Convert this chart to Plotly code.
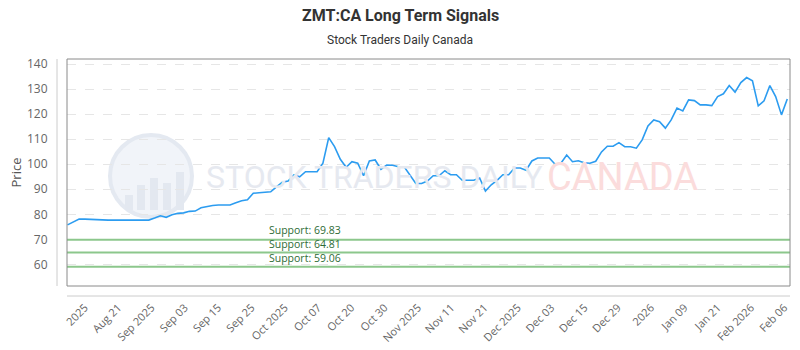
import numpy as np
import plotly.graph_objects as go

# ---- data ----
prices = [
    75.8, 77.0, 78.1, 78.1, 78.1, 78.0, 77.8, 77.7, 77.7, 77.7, 77.7, 77.7, 77.7, 77.7, 77.7,
    78.5, 79.4, 78.8, 79.8, 80.4, 80.6, 81.2, 81.3, 82.6, 83.2, 83.5, 83.7, 83.7, 83.7,
    84.6, 85.4, 85.8, 88.4,
    88.6, 88.9, 89.0, 91.0, 92.8, 93.3, 95.7, 95.0, 97.0, 97.0, 97.0, 100.4, 110.6, 107.0,
    102.0, 98.8, 101.0, 100.4, 95.4, 101.3, 101.7, 98.0, 99.7, 99.6, 99.0, 99.0, 95.4, 92.3,
    92.3, 93.3, 95.4, 95.4,
    97.4, 95.8, 95.8, 93.6, 93.6, 93.6, 94.5, 89.3, 91.8, 93.6, 95.8, 95.8, 98.5, 98.5, 97.6,
    101.3, 102.5, 102.5, 102.5, 100.0, 100.4, 103.7, 101.0, 101.4, 100.6, 100.4, 101.2, 104.9,
    107.2, 107.2, 108.6,
    107.0, 107.0, 106.4, 109.7, 115.3, 117.7, 117.0, 114.4, 117.7, 122.4, 121.3, 125.7, 125.4,
    123.7, 123.7, 123.4, 127.0, 128.1, 131.4, 128.8, 132.6, 134.6, 133.3, 123.3, 125.3, 131.4,
    127.0, 119.7, 126.0,
]
tick_labels = ["2025", "Aug 21", "Sep 2025", "Sep 03", "Sep 15", "Sep 25", "Oct 2025", "Oct 07",
               "Oct 20", "Oct 30", "Nov 2025", "Nov 11", "Nov 21", "Dec 2025", "Dec 03", "Dec 15",
               "Dec 29", "2026", "Jan 09", "Jan 21", "Feb 2026", "Feb 06"]
supports = [69.83, 64.81, 59.06]
y_ticks = [60, 70, 80, 90, 100, 110, 120, 130, 140]

n = len(prices)
idx = list(range(n))
tickvals = list(np.linspace(3.0, n - 1.5, len(tick_labels)))

W, H = 800, 350
ml, mr, mt, mb = 67, 10, 59, 64
pw = W - ml - mr
ph = H - mt - mb

fig = go.Figure()
fig.add_trace(go.Scatter(x=idx, y=prices, mode="lines",
                         line=dict(color="#2c9cf0", width=1.6), hoverinfo="skip", showlegend=False))

shapes = []
for s in supports:
    shapes.append(dict(type="line", xref="paper", yref="y", x0=0, x1=1, y0=s, y1=s,
                       line=dict(color="#8cc78c", width=2), layer="above"))
shapes.append(dict(type="rect", xref="paper", yref="paper", x0=0, x1=1, y0=0, y1=1,
                   line=dict(color="#8a8a8a", width=1)))
shapes.append(dict(type="line", xref="paper", yref="paper", x0=-10 / pw, x1=-10 / pw, y0=0, y1=1,
                   line=dict(color="#cccccc", width=1)))
shapes.append(dict(type="line", xref="paper", yref="paper", x0=0, x1=1, y0=-10 / ph, y1=-10 / ph,
                   line=dict(color="#cccccc", width=1)))

# watermark logo
cx, cy, r = (151 - ml) / pw, 1 - (176 - mt) / ph, 41
shapes.append(dict(type="circle", xref="paper", yref="paper", layer="below",
                   x0=cx - r / pw, x1=cx + r / pw, y0=cy - r / ph, y1=cy + r / ph,
                   fillcolor="rgba(232,237,245,0.6)", line=dict(color="#e4e9f1", width=4)))
for bx, btop in [(125, 195), (137, 185), (150, 178), (163, 183), (176, 172)]:
    shapes.append(dict(type="rect", xref="paper", yref="paper", layer="below",
                       x0=(bx - ml) / pw, x1=(bx + 8 - ml) / pw,
                       y0=1 - (210 - mt) / ph, y1=1 - (btop - mt) / ph,
                       fillcolor="#e3e8f0", line=dict(width=0)))

wm_font = "Roboto"
annotations = [
    dict(text="STOCK TRADERS DAILY", xref="paper", yref="paper", x=(204 - ml) / pw, y=1 - (177 - mt) / ph,
         xanchor="left", yanchor="middle", showarrow=False,
         font=dict(family=wm_font, size=32, color="#e6e9f0")),
    dict(text="CANADA", xref="paper", yref="paper", x=(545 - ml) / pw, y=1 - (177 - mt) / ph,
         xanchor="left", yanchor="middle", showarrow=False,
         font=dict(family=wm_font, size=38, color="#fbdcdc")),
]
label_shifts = [9.5, 8.0, 8.5]
for s, sh in zip(supports, label_shifts):
    annotations.append(dict(text=f"Support: {s:.2f}", xref="paper", yref="y", x=(268 - ml) / pw, y=s,
                            xanchor="left", yanchor="middle", showarrow=False, yshift=sh, borderpad=0,
                            font=dict(family="Open Sans, Roboto", size=10.5, color="#2e6b35")))
annotations.append(dict(text="<b>ZMT:CA Long Term Signals</b>", xref="paper", yref="paper",
                        x=(400 - ml) / pw, y=1 + (mt - 15) / ph, xanchor="center", yanchor="middle",
                        showarrow=False, font=dict(family="Roboto", size=16, color="#333333")))
annotations.append(dict(text="Stock Traders Daily Canada", xref="paper", yref="paper",
                        x=(400 - ml) / pw, y=1 + (mt - 40) / ph, xanchor="center", yanchor="middle",
                        showarrow=False, font=dict(family="Roboto", size=12, color="#333333")))

fig.update_layout(
    width=W, height=H, margin=dict(l=ml, r=mr, t=mt, b=mb),
    paper_bgcolor="white", plot_bgcolor="white",
    shapes=shapes, annotations=annotations,
    xaxis=dict(range=[-0.09, n - 1 + 0.47], tickmode="array", tickvals=tickvals, ticktext=tick_labels,
               tickangle=-45, showgrid=False, zeroline=False, showline=False, automargin=False,
               ticks="outside", ticklen=10, tickcolor="rgba(0,0,0,0)",
               tickfont=dict(family="Open Sans, Roboto", size=11, color="#666666")),
    yaxis=dict(range=[51.4, 142.0], tickmode="array", tickvals=y_ticks, automargin=False,
               showgrid=True, gridcolor="#e6e6e6", griddash="dash", gridwidth=1,
               zeroline=False, showline=False,
               ticks="outside", ticklen=16, tickcolor="rgba(0,0,0,0)",
               tickfont=dict(family="Open Sans, Roboto", size=12, color="#666666"),
               title=dict(text="Price", font=dict(family="Open Sans, Roboto", size=13, color="#555555"),
                          standoff=2)),
)

fig.write_html("out.html")
